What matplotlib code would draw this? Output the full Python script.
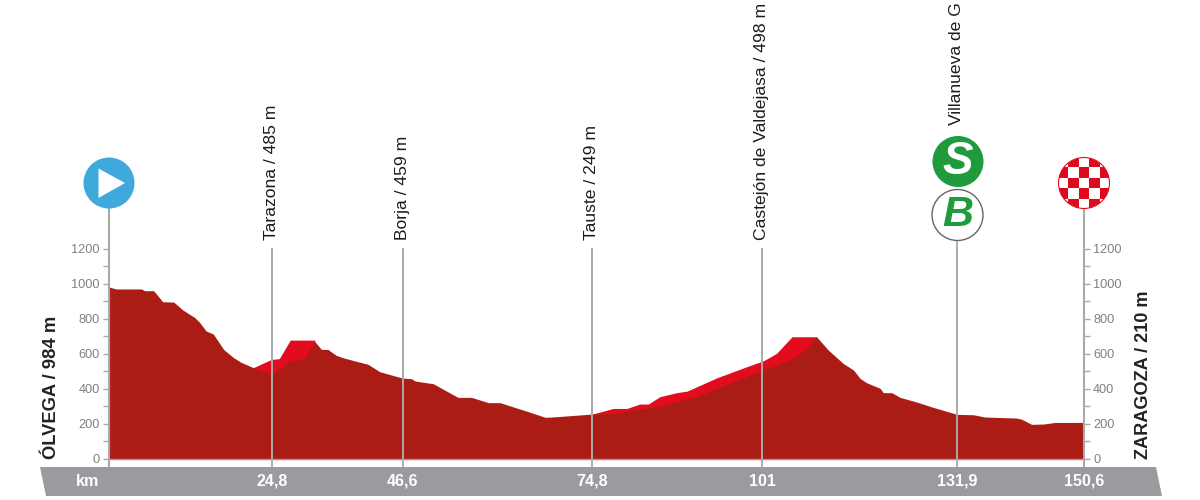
import numpy as np
import matplotlib
matplotlib.use('Agg')
import matplotlib.pyplot as plt
from matplotlib.patches import Circle, Polygon, Rectangle

# road profile, km along the axis and metres
base_km = [0, 1.1, 5.0, 5.5, 6.9, 8.3, 10.0, 11.4, 13.2, 14.0, 15.0, 16.1, 17.7, 19.2, 20.4, 22.3,
           25.1, 26.9, 27.9, 30.0, 31.0, 31.8, 32.8, 33.8, 35.1, 36.1, 38.0, 40.0, 41.8, 43.6, 45.4,
           46.7, 47.3, 50.1, 51.4, 53.9, 56.0, 58.6, 60.4, 62.5, 64.3, 67.4, 69.2, 74.7,
           77.9, 81.0, 84.6, 87.7, 91.3, 96.4, 101.1, 105.2, 107.3, 109.3,
           111.1, 113.4, 115.0, 116.0, 117.0, 119.1, 119.6, 120.9, 122.2, 124.8, 127.3, 131.0,
           133.5, 135.3, 140.2, 141.0, 142.5, 144.4, 146.1, 150.6]
base_elev = [980, 969, 969, 959, 959, 896, 894, 849, 807, 778, 729, 712, 624, 578, 550, 520,
             487, 529, 558, 567, 620, 668, 624, 624, 590, 577, 558, 539, 497, 478, 460,
             457, 443, 428, 401, 350, 350, 320, 320, 295, 274, 236, 240, 255,
             258, 278, 297, 325, 363, 440, 506, 563, 615, 696,
             620, 544, 506, 459, 434, 402, 377, 377, 350, 323, 293, 253,
             251, 238, 232, 225, 196, 198, 207, 207]

# the brighter red climbs that sit on top of the profile
climb1_km = [22.3, 25.1, 26.3, 28.0, 31.8]
climb1_elev = [520, 567, 571, 677, 677]
climb2_km = [74.7, 77.9, 80.0, 82.0, 83.3, 85.1, 87.7, 89.3, 93.9, 98.5, 101.1, 103.1, 105.5, 109.3]
climb2_elev = [255, 287, 287, 312, 312, 354, 377, 386, 462, 525, 559, 601, 696, 696]

# passing points: axis position, km label, name label
point_pos = [25.2, 45.4, 74.6, 100.9, 131.0]
point_km = ['24,8', '46,6', '74,8', '101', '131,9']
point_names = ['Tarazona / 485 m', 'Borja / 459 m', 'Tauste / 249 m',
               'Castejón de Valdejasa / 498 m', 'Villanueva de G']
end_km = ['km', '150,6']
total_pos = 150.6

major_ticks = [0, 200, 400, 600, 800, 1000, 1200]
minor_ticks = [100, 300, 500, 700, 900, 1100]

DARK_RED = '#ab1d14'
BRIGHT_RED = '#e30b1e'
GREY = '#9a9b9e'
LINE_GREY = '#a9a9a9'
TICK_GREY = '#808080'
GREEN = '#1f9a3d'
BLUE = '#3fa9dc'

LABEL_FONT = ['Liberation Sans', 'DejaVu Sans']

W, H = 1200, 500
fig = plt.figure(figsize=(W / 100, H / 100), dpi=100, facecolor='white')

# overlay in pixels for the band and the round badges
over = fig.add_axes([0, 0, 1, 1], zorder=3)
over.set_xlim(0, W)
over.set_ylim(H, 0)
over.axis('off')
over.patch.set_alpha(0)

# plot area: 109..1084 px wide, 0 m at y=459, 1200 m at y=248.5
ax = fig.add_axes([109 / W, 1 - 458.7 / H, 975 / W, 210.2 / H], zorder=2)
ax.set_xlim(0, total_pos)
ax.set_ylim(0, 1200)
ax.patch.set_alpha(0)
for s in ax.spines.values():
    s.set_visible(False)

ax.fill_between(climb1_km, climb1_elev, 0, color=BRIGHT_RED, lw=0, zorder=1)
ax.fill_between(climb2_km, climb2_elev, 0, color=BRIGHT_RED, lw=0, zorder=1)
ax.fill_between(base_km, base_elev, 0, color=DARK_RED, lw=0, zorder=2)
ax.plot([0, total_pos], [0, 0], color='#c9857c', lw=1, zorder=3, clip_on=False)

# y ticks, left side and a twin for the right side
ax.set_yticks(major_ticks)
ax.set_yticks(minor_ticks, minor=True)
ax.set_xticks([])
ax.tick_params(axis='y', which='major', length=4.5, width=1, color=LINE_GREY, labelcolor=TICK_GREY,
               labelsize=9.2, pad=2)
ax.tick_params(axis='y', which='minor', length=4.5, width=1, color=LINE_GREY)
ax_r = ax.twinx()
ax_r.set_ylim(0, 1200)
ax_r.patch.set_alpha(0)
for s in ax_r.spines.values():
    s.set_visible(False)
ax_r.set_yticks(major_ticks)
ax_r.set_yticks(minor_ticks, minor=True)
ax_r.tick_params(axis='y', which='major', length=4.5, width=1, color=LINE_GREY, labelcolor=TICK_GREY,
                 labelsize=9.2, pad=2)
ax_r.tick_params(axis='y', which='minor', length=4.5, width=1, color=LINE_GREY)
for lab in ax.get_yticklabels() + ax_r.get_yticklabels():
    lab.set_fontfamily(LABEL_FONT)

# band under the chart
over.add_patch(Polygon([(40, 467), (1156, 467), (1162, 496), (46, 496)], closed=True, fc=GREY, ec='none', zorder=1))


def px_x(km):
    return 109 + km * 975 / total_pos


# vertical lines
for km in [0, total_pos]:
    x = px_x(km)
    over.plot([x, x], [467, 183], color=LINE_GREY, lw=1.5, zorder=0)
    ax.plot([km, km], [base_elev[0] if km == 0 else base_elev[-1], 0], color='#c9857c', lw=0.8, zorder=3)
for i, km in enumerate(point_pos):
    x = px_x(km)
    top = 215 if i == 4 else 249
    elev = np.interp(km, base_km, base_elev)
    over.plot([x, x], [467, top], color=LINE_GREY, lw=1.3, zorder=0)
    ax.plot([km, km], [0, elev], color='#dcaaa3', lw=1.1, zorder=3)
    ax.plot([km, km], [elev, 1200], color=LINE_GREY, lw=1.1, zorder=3)
    over.text(x - 0.5, 240 if i < 4 else 125, point_names[i], rotation=90, ha='center', va='bottom',
              fontsize=12.6, color='#1c1c1c', family=LABEL_FONT, zorder=5)
    over.text(x, 481.5, point_km[i], ha='center', va='center', color='white', fontsize=11.6,
              fontweight='bold', family=LABEL_FONT, zorder=5)

over.text(88, 481.5, end_km[0], ha='center', va='center', color='white', fontsize=11.6,
          fontweight='bold', family=LABEL_FONT, zorder=5)
over.text(px_x(total_pos), 481.5, end_km[1], ha='center', va='center', color='white', fontsize=11.6,
          fontweight='bold', family=LABEL_FONT, zorder=5)

# start and finish names
over.text(52, 459, 'ÓLVEGA / 984 m', rotation=90, ha='center', va='bottom', fontsize=13.2,
          fontweight='bold', color='#222222', family=LABEL_FONT, zorder=5)
over.text(1144, 459, 'ZARAGOZA / 210 m', rotation=90, ha='center', va='bottom', fontsize=13.1,
          fontweight='bold', color='#222222', family=LABEL_FONT, zorder=5)

# start badge
over.add_patch(Circle((109, 183), 25.5, fc=BLUE, ec='none', zorder=4))
over.add_patch(Polygon([(98.5, 168.5), (125, 183), (98.5, 198)], closed=True, fc='white', ec='none', zorder=5))

# sprint and bonus badges
over.add_patch(Circle((958, 161.5), 25.5, fc=GREEN, ec='none', zorder=4))
over.text(958, 162, 'S', ha='center', va='center', color='white', fontsize=33, fontweight='bold',
          style='italic', family=LABEL_FONT, zorder=5)
over.add_patch(Circle((957.5, 215), 25.5, fc='white', ec='#666666', lw=1, zorder=4))
over.text(957.5, 215.5, 'B', ha='center', va='center', color=GREEN, fontsize=31, fontweight='bold',
          style='italic', family=LABEL_FONT, zorder=5)

# finish badge, checks clipped to the circle
cx, cy, r = 1084, 183, 25.5
check = 10.6
rim = Circle((cx, cy), r, fc='white', ec=BRIGHT_RED, lw=0.8, zorder=4)
over.add_patch(rim)
for i in range(-3, 4):
    for j in range(-3, 4):
        if (i + j) % 2:
            sq = Rectangle((cx + (i - 0.5) * check, cy + (j - 0.5) * check), check, check,
                           fc='#dd0a1e', ec='none', zorder=5)
            over.add_patch(sq)
            sq.set_clip_path(rim)

fig.savefig('out.png', dpi=100)
